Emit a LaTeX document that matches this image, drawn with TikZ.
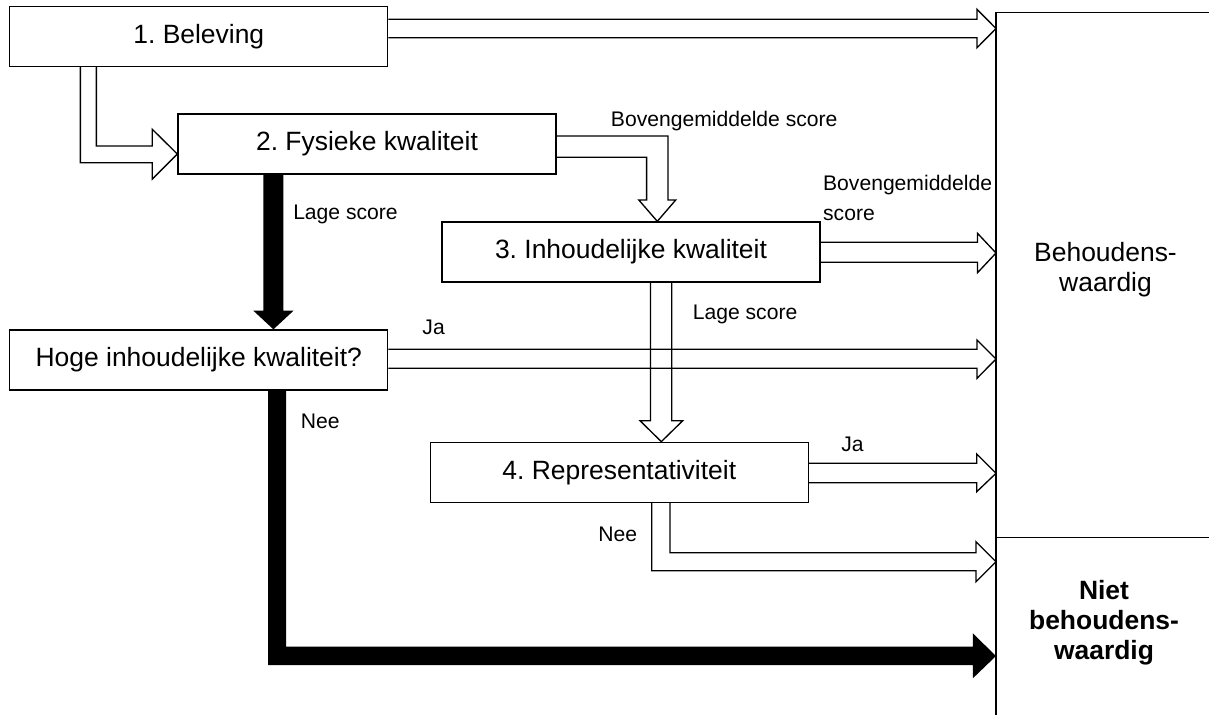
\documentclass[tikz,border=0pt]{standalone}
\usepackage{fontspec}
\setmainfont{Liberation Sans}
\frenchspacing

\tikzset{
  vak/.style={draw, line width=0.6pt, minimum width=170.1pt, minimum height=27pt, inner sep=0pt, font=\fontsize{11.9}{13.6}\selectfont},
  etiket/.style={inner sep=0pt, font=\fontsize{9.5}{13.5}\selectfont},
  holpijl/.style={draw, line width=0.6pt, line join=miter},
  volpijl/.style={fill=black},
}

\begin{document}
\begin{tikzpicture}[x=0.45pt, y=-0.45pt]
\useasboundingbox (0,0) rectangle (1209,715);

% vakken
\node[vak] (beleving) at (198.8,36.2) {1. Beleving};
\node[vak] (fysiek) at (367,144) {2. Fysieke kwaliteit};
\node[vak] (inhoud) at (631,252) {3. Inhoudelijke kwaliteit};
\node[vak] (hoog) at (198.8,360) {Hoge inhoudelijke kwaliteit?};
\node[vak] (repr) at (619.3,472.3) {4. Representativiteit};

% uitkomst
\coordinate (grens) at (996,0);
\draw[line width=0.6pt] (1209,12.3) -- (grens |- 0,12.3) -- (grens |- 0,715);
\draw[line width=0.6pt] (grens |- 0,537.7) -- (1209,537.7);
\node[align=center, inner sep=0pt, font=\fontsize{11.9}{13.7}\selectfont] (behoud) at (1105.5,269.6) {Behoudens-\\waardig};
\node[align=center, inner sep=0pt, font=\fontsize{11.9}{13.6}\selectfont\bfseries] (nietbehoud) at (1104,622.6) {Niet\\behoudens-\\waardig};

% holle pijlen
\draw[holpijl] (beleving.east |- 0,19.3) -- (977,19.3) -- (977,9.3) -- (grens |- 0,28.5) -- (977,47.7) -- (977,37.7) -- (beleving.east |- 0,37.7);
\draw[holpijl] (beleving.south -| 80.4,0) -- (80.4,162.7) -- (152.3,162.7) -- (152.3,179) -- (fysiek.west |- 0,154) -- (152.3,129.3) -- (152.3,146) -- (96.4,146) -- (beleving.south -| 96.4,0);
\draw[holpijl] (fysiek.east |- 0,136) -- (668,136) -- (668,200) -- (675.7,200) -- (inhoud.north -| 657.3,0) -- (638.8,200) -- (646.6,200) -- (646.6,157.3) -- (fysiek.east |- 0,157.3);
\draw[holpijl] (inhoud.east |- 0,242.3) -- (977.5,242.3) -- (977.5,233.3) -- (grens |- 0,253) -- (977.5,272.7) -- (977.5,262.3) -- (inhoud.east |- 0,262.3);
\draw[holpijl] (hoog.east |- 0,349.3) -- (977,349.3) -- (977,340) -- (grens |- 0,359) -- (977,378.3) -- (977,368.3) -- (hoog.east |- 0,368.3);
\draw[holpijl] (inhoud.south -| 650.5,0) -- (650.5,420.7) -- (640,420.7) -- (repr.north -| 661.3,0) -- (682.7,420.7) -- (671.8,420.7) -- (inhoud.south -| 671.8,0);
\draw[holpijl] (repr.east |- 0,463.3) -- (976.7,463.3) -- (976.7,454) -- (grens |- 0,473.3) -- (976.7,491.7) -- (976.7,482.7) -- (repr.east |- 0,482.7);
\draw[holpijl] (repr.south -| 651.7,0) -- (651.7,570.7) -- (976,570.7) -- (976,581.7) -- (grens |- 0,561.7) -- (976,541.7) -- (976,552.7) -- (670,552.7) -- (repr.south -| 670,0);

% volle pijlen
\fill[volpijl] (fysiek.south -| 263.3,0) -- (263.3,310.7) -- (253.4,310.7) -- (hoog.north -| 273.4,0) -- (293.5,310.7) -- (283.3,310.7) -- (fysiek.south -| 283.3,0) -- cycle;
\fill[volpijl] (hoog.south -| 268,0) -- (268,665) -- (972.8,665) -- (972.8,678.3) -- (grens |- 0,656) -- (972.8,633.3) -- (972.8,646.7) -- (286,646.7) -- (hoog.south -| 286,0) -- cycle;

% labels
\node[etiket, anchor=west] (lage1) at (292.8,214.2) {Lage score};
\node[etiket, anchor=base west] (boven1) at (610.5,126.5) {Bovengemiddelde score};
\node[etiket, anchor=north west, align=left] (boven2) at (822.7,174.5) {Bovengemiddelde\\score};
\node[etiket, anchor=west] (lage2) at (692.4,314.2) {Lage score};
\node[etiket, anchor=west] (ja1) at (422,327.5) {Ja};
\node[etiket, anchor=west] (nee1) at (300.4,421.7) {Nee};
\node[etiket, anchor=west] (ja2) at (840.8,444.2) {Ja};
\node[etiket, anchor=west] (nee2) at (598,534.2) {Nee};
\end{tikzpicture}
\end{document}
